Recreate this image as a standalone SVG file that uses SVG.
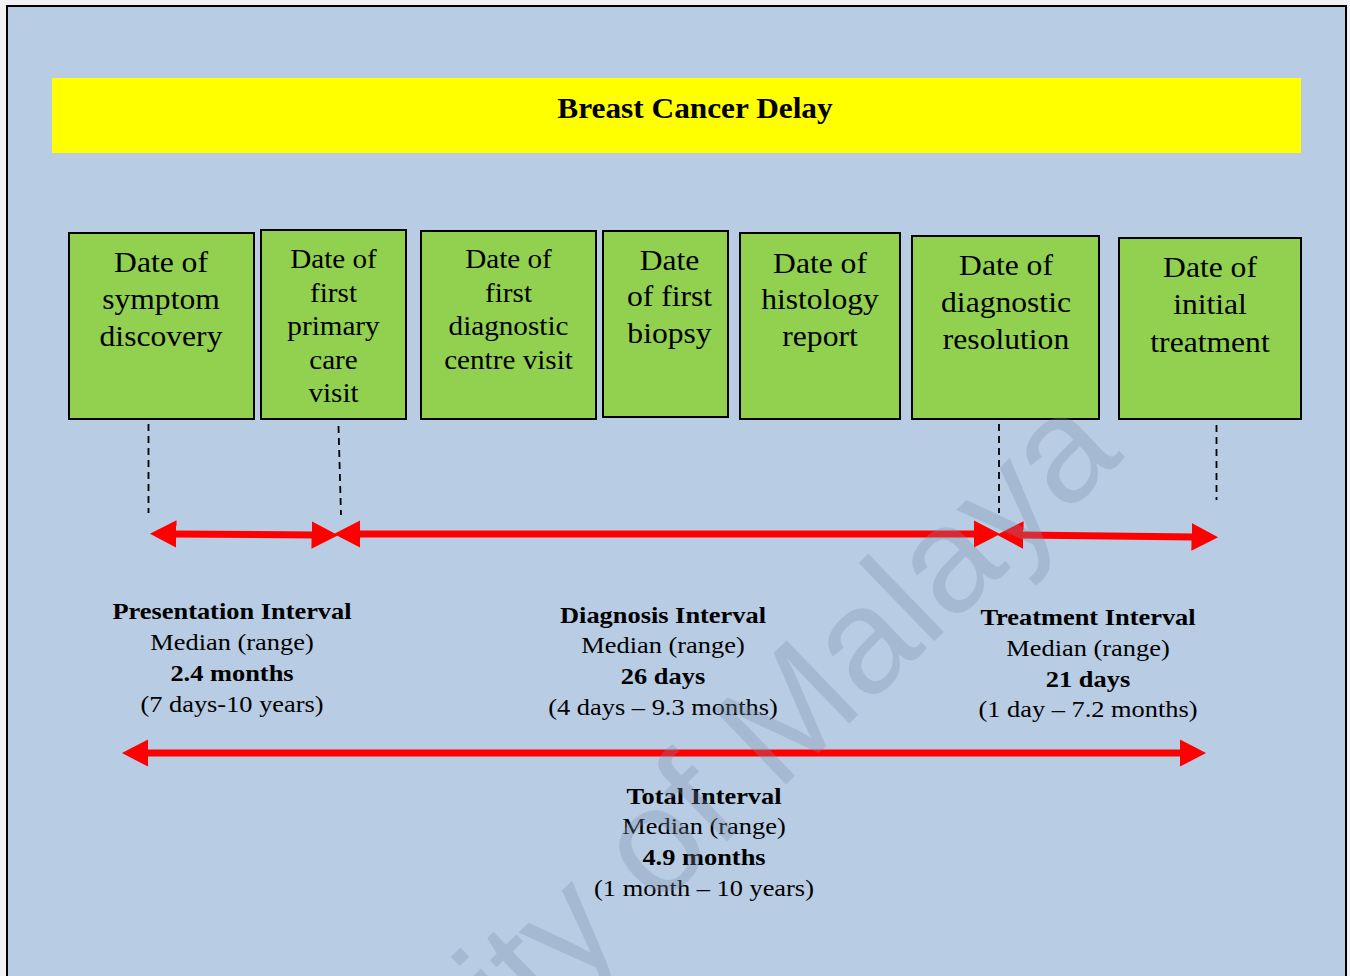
<svg xmlns="http://www.w3.org/2000/svg" width="1350" height="976" viewBox="0 0 1350 976">
<style>
.box{fill:#92d050;stroke:#000;stroke-width:2}
.bt{font-family:"Liberation Serif","Times New Roman",serif;fill:#000;text-anchor:middle}
.lbl{font-family:"Liberation Serif","Times New Roman",serif;font-size:24px;fill:#000;text-anchor:middle}
.b{font-weight:bold}
.dash{stroke:#000;stroke-width:1.8;stroke-dasharray:7 5;fill:none}
.arr{stroke:#ff0000;stroke-width:7;fill:none;marker-start:url(#ah);marker-end:url(#ah)}
.wm{font-family:"Liberation Sans",Arial,sans-serif;font-size:150px;fill:#7f8fa8;fill-opacity:0.3}
</style>
<defs>
<marker id="ah" markerUnits="userSpaceOnUse" markerWidth="30" markerHeight="30" viewBox="0 -13 26 26" refX="3" refY="0" orient="auto-start-reverse">
<path d="M0,-12 L23,0 L0,12 z" fill="#ff0000"/>
</marker>
</defs>
<rect x="0" y="0" width="1350" height="976" fill="#f2f2f2"/>
<rect x="7" y="6" width="1339" height="1000" fill="#b8cce4" stroke="#000" stroke-width="2"/>

<g id="title">
<rect x="52" y="78" width="1249" height="75" fill="#ffff00"/>
<text class="bt b" font-size="29" transform="translate(695,0) scale(1.08,1)" x="0" y="118">Breast Cancer Delay</text>
</g>

<g id="node-symptom">
<rect class="box" x="69" y="233" width="185" height="186"/>
<text class="bt" font-size="29" transform="translate(161,0) scale(1.09,1)"><tspan x="0" y="272">Date of</tspan><tspan x="0" y="309">symptom</tspan><tspan x="0" y="346">discovery</tspan></text>
</g>
<g id="node-primary">
<rect class="box" x="261" y="230" width="145" height="189"/>
<text class="bt" font-size="27" transform="translate(333.5,0) scale(1.08,1)"><tspan x="0" y="268">Date of</tspan><tspan x="0" y="302">first</tspan><tspan x="0" y="335">primary</tspan><tspan x="0" y="369">care</tspan><tspan x="0" y="402">visit</tspan></text>
</g>
<g id="node-diagcentre">
<rect class="box" x="421" y="231" width="175" height="188"/>
<text class="bt" font-size="27" transform="translate(508.5,0) scale(1.08,1)"><tspan x="0" y="268">Date of</tspan><tspan x="0" y="302">first</tspan><tspan x="0" y="335">diagnostic</tspan><tspan x="0" y="369">centre visit</tspan></text>
</g>
<g id="node-biopsy">
<rect class="box" x="603" y="231" width="125" height="186"/>
<text class="bt" font-size="29" transform="translate(669.5,0) scale(1.09,1)"><tspan x="0" y="270">Date</tspan><tspan x="0" y="306">of first</tspan><tspan x="0" y="343">biopsy</tspan></text>
</g>
<g id="node-histology">
<rect class="box" x="740" y="233" width="160" height="186"/>
<text class="bt" font-size="29" transform="translate(820,0) scale(1.09,1)"><tspan x="0" y="273">Date of</tspan><tspan x="0" y="309">histology</tspan><tspan x="0" y="346">report</tspan></text>
</g>
<g id="node-resolution">
<rect class="box" x="912" y="236" width="187" height="183"/>
<text class="bt" font-size="29" transform="translate(1006,0) scale(1.09,1)"><tspan x="0" y="275">Date of</tspan><tspan x="0" y="312">diagnostic</tspan><tspan x="0" y="349">resolution</tspan></text>
</g>
<g id="node-treatment">
<rect class="box" x="1119" y="238" width="182" height="181"/>
<text class="bt" font-size="29" transform="translate(1210,0) scale(1.09,1)"><tspan x="0" y="277">Date of</tspan><tspan x="0" y="314">initial</tspan><tspan x="0" y="352">treatment</tspan></text>
</g>

<g id="connectors">
<line class="dash" x1="148.5" y1="424" x2="148.5" y2="513"/>
<line class="dash" x1="338.5" y1="426" x2="341" y2="515"/>
<line class="dash" x1="999" y1="424" x2="999" y2="513"/>
<line class="dash" x1="1216.5" y1="425" x2="1216.5" y2="500"/>
<line class="arr" x1="173" y1="534" x2="315" y2="535"/>
<line class="arr" x1="357" y1="534" x2="977" y2="534"/>
<line class="arr" x1="1020" y1="535" x2="1195" y2="537"/>
<line class="arr" x1="145" y1="753" x2="1183" y2="753"/>
</g>

<g id="label-presentation" class="lbl">
<text class="b" transform="translate(232,0) scale(1.1,1)" x="0" y="619">Presentation Interval</text>
<text transform="translate(232,0) scale(1.1,1)" x="0" y="650">Median (range)</text>
<text class="b" transform="translate(232,0) scale(1.1,1)" x="0" y="681">2.4 months</text>
<text transform="translate(232,0) scale(1.1,1)" x="0" y="712">(7 days-10 years)</text>
</g>
<g id="label-diagnosis" class="lbl">
<text class="b" transform="translate(663,0) scale(1.1,1)" x="0" y="623">Diagnosis Interval</text>
<text transform="translate(663,0) scale(1.1,1)" x="0" y="653">Median (range)</text>
<text class="b" transform="translate(663,0) scale(1.1,1)" x="0" y="684">26 days</text>
<text transform="translate(663,0) scale(1.1,1)" x="0" y="715">(4 days – 9.3 months)</text>
</g>
<g id="label-treatment" class="lbl">
<text class="b" transform="translate(1088,0) scale(1.1,1)" x="0" y="625">Treatment Interval</text>
<text transform="translate(1088,0) scale(1.1,1)" x="0" y="656">Median (range)</text>
<text class="b" transform="translate(1088,0) scale(1.1,1)" x="0" y="687">21 days</text>
<text transform="translate(1088,0) scale(1.1,1)" x="0" y="717">(1 day – 7.2 months)</text>
</g>
<g id="label-total" class="lbl">
<text class="b" transform="translate(704,0) scale(1.1,1)" x="0" y="804">Total Interval</text>
<text transform="translate(704,0) scale(1.1,1)" x="0" y="834">Median (range)</text>
<text class="b" transform="translate(704,0) scale(1.1,1)" x="0" y="865">4.9 months</text>
<text transform="translate(704,0) scale(1.1,1)" x="0" y="896">(1 month – 10 years)</text>
</g>

<text class="wm" text-anchor="end" transform="translate(1125,457) rotate(-44)" x="0" y="0">University of Malaya</text>
</svg>
